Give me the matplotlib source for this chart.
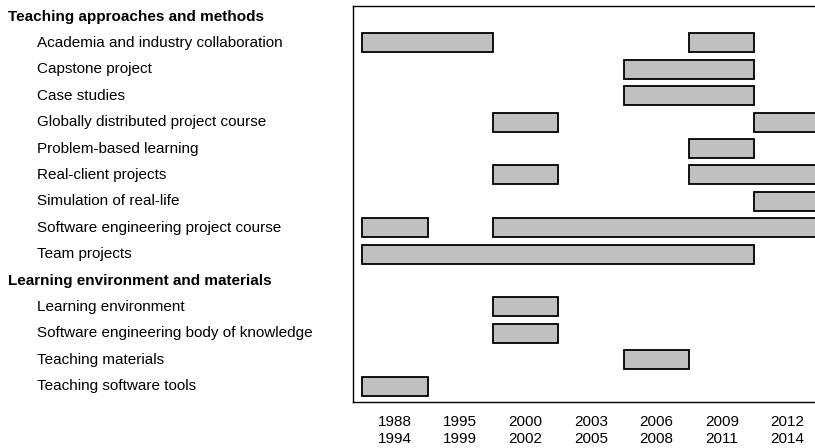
import matplotlib
matplotlib.use('Agg')
from matplotlib import pyplot as plt
from matplotlib import transforms

plt.rcParams['font.family'] = ['Liberation Sans', 'DejaVu Sans']

periods = ['1988\n1994', '1995\n1999', '2000\n2002', '2003\n2005',
           '2006\n2008', '2009\n2011', '2012\n2014']

rows = ['Teaching approaches and methods',
        'Academia and industry collaboration',
        'Capstone project',
        'Case studies',
        'Globally distributed project course',
        'Problem-based learning',
        'Real-client projects',
        'Simulation of real-life',
        'Software engineering project course',
        'Team projects',
        'Learning environment and materials',
        'Learning environment',
        'Software engineering body of knowledge',
        'Teaching materials',
        'Teaching software tools']
headers = ['Teaching approaches and methods', 'Learning environment and materials']

# (first period index, last period index) for each topic
spans = {
    'Academia and industry collaboration': [(0, 1), (5, 5)],
    'Capstone project': [(4, 5)],
    'Case studies': [(4, 5)],
    'Globally distributed project course': [(2, 2), (6, 6)],
    'Problem-based learning': [(5, 5)],
    'Real-client projects': [(2, 2), (5, 6)],
    'Simulation of real-life': [(6, 6)],
    'Software engineering project course': [(0, 0), (2, 6)],
    'Team projects': [(0, 5)],
    'Learning environment': [(2, 2)],
    'Software engineering body of knowledge': [(2, 2)],
    'Teaching materials': [(4, 4)],
    'Teaching software tools': [(0, 0)],
}

W, H = 815, 448
fig = plt.figure(figsize=(W / 100, H / 100), dpi=100)
# axes runs past the right edge of the figure, as in the reference
ax = fig.add_axes([353 / W, (H - 402) / H, 476 / W, 396 / H])

for i, name in enumerate(rows):
    for a, b in spans.get(name, []):
        ax.barh(i, b - a + 1, left=a - 0.5, height=0.72,
                color='#c0c0c0', edgecolor='black', linewidth=1.3)

ax.set_xlim(-0.64, 6.64)
ax.set_ylim(14.6, -0.4)
ax.set_xticks(range(len(periods)))
ax.set_xticklabels(periods, fontsize=11, linespacing=1.3)
ax.tick_params(axis='x', length=0, pad=9)
ax.set_yticks([])
for s in ax.spines.values():
    s.set_linewidth(1.0)

trans = transforms.blended_transform_factory(fig.transFigure, ax.transData)
for i, name in enumerate(rows):
    if name in headers:
        ax.text(8 / W, i, name, transform=trans, fontsize=11,
                fontweight='bold', va='center', ha='left')
    else:
        ax.text(37 / W, i, name, transform=trans, fontsize=11,
                va='center', ha='left')

fig.savefig('out.png', dpi=100)
